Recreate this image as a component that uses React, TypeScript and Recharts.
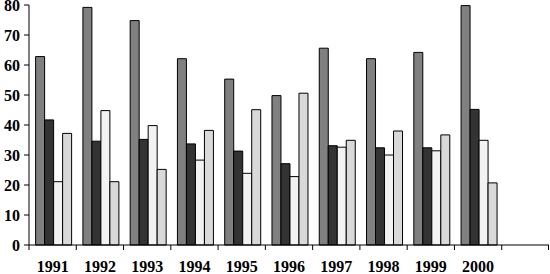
import React from 'react';
import { BarChart, Bar, XAxis, YAxis } from 'recharts';

const years = ['1991', '1992', '1993', '1994', '1995', '1996', '1997', '1998', '1999', '2000', ''];
const seriesA = [62.8, 79.2, 74.8, 62.1, 55.3, 49.8, 65.6, 62.1, 64.2, 79.8, null];
const seriesB = [41.7, 34.6, 35.2, 33.7, 31.3, 27.1, 33.1, 32.4, 32.4, 45.2, null];
const seriesC = [21.1, 44.8, 39.8, 28.3, 23.9, 22.8, 32.6, 30.0, 31.4, 34.9, null];
const seriesD = [37.2, 21.1, 25.2, 38.2, 45.1, 50.6, 34.9, 38.0, 36.7, 20.7, null];
const yTicks = [0, 10, 20, 30, 40, 50, 60, 70, 80];

const data = years.map((year, i) => ({
  year,
  a: seriesA[i],
  b: seriesB[i],
  c: seriesC[i],
  d: seriesD[i],
}));

const font = { fill: '#000', fontSize: 16, fontWeight: 'bold', fontFamily: '"Liberation Serif", serif' };

// excel style: tick marks sit on the category edges, label in the middle
const YearTick = (props: any) => {
  const { x, y, payload, index } = props;
  const half = payload.offset || 0;
  const last = index === years.length - 1;
  return (
    <g>
      <line x1={x - half} x2={x - half} y1={y} y2={y + 5} stroke="#000" />
      {last && <line x1={x + half - 0.5} x2={x + half - 0.5} y1={y} y2={y + 5} stroke="#000" />}
      <text x={x} y={y + 27} textAnchor="middle" {...font}>
        {payload.value}
      </text>
    </g>
  );
};

const App: React.FC = () => {
  return (
    <div style={{ position: 'absolute', left: 0, top: 0, background: '#fff' }}>
      <BarChart
        width={550}
        height={274}
        data={data}
        margin={{ top: 5, right: 1, left: 0, bottom: 0 }}
        barCategoryGap="14%"
        barGap={0}
      >
        <XAxis
          dataKey="year"
          axisLine={{ stroke: '#000' }}
          tickLine={false}
          tickSize={0}
          tickMargin={0}
          tick={<YearTick />}
          height={29}
          interval={0}
        />
        <YAxis
          domain={[0, 80]}
          ticks={yTicks}
          axisLine={{ stroke: '#000' }}
          tickLine={{ stroke: '#000' }}
          tickSize={5}
          tickMargin={4}
          tick={font}
          width={29}
          interval={0}
        />
        <Bar dataKey="a" fill="#808080" stroke="#000" strokeWidth={1} isAnimationActive={false} />
        <Bar dataKey="b" fill="#333333" stroke="#000" strokeWidth={1} isAnimationActive={false} />
        <Bar dataKey="c" fill="#f2f2f2" stroke="#000" strokeWidth={1} isAnimationActive={false} />
        <Bar dataKey="d" fill="#d9d9d9" stroke="#000" strokeWidth={1} isAnimationActive={false} />
      </BarChart>
    </div>
  );
};

export default App;
